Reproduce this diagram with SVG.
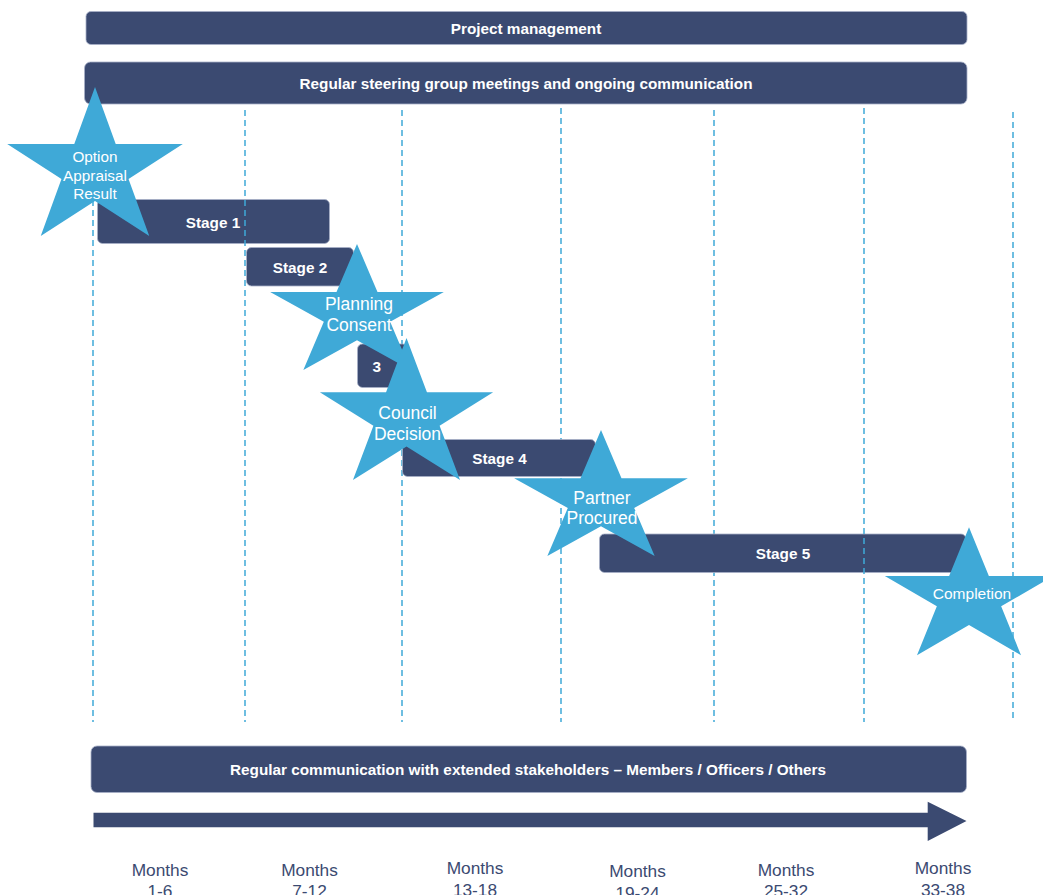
<svg xmlns="http://www.w3.org/2000/svg" width="1043" height="895" viewBox="0 0 1043 895">
<style>
.bar{fill:#3b4a71;stroke:#a7b0c8;stroke-width:0.8}
.star{fill:#3fa9d7}
.grid{stroke:#3fa9d7;stroke-width:1.5;stroke-dasharray:6 4;fill:none}
.bt{font-family:"Liberation Sans",Arial,sans-serif;font-weight:bold;font-size:15.3px;fill:#ffffff;text-anchor:middle}
.st{font-family:"Liberation Sans",Arial,sans-serif;font-size:17.5px;fill:#ffffff;text-anchor:middle}
.mt{font-family:"Liberation Sans",Arial,sans-serif;font-size:17.3px;fill:#3b4a71;text-anchor:middle}
</style>
<defs>
<path id="starShape" d="M0,-100 L22.45,-30.9 L95.11,-30.9 L36.33,11.8 L58.78,80.9 L0,38.2 L-58.78,80.9 L-36.33,11.8 L-95.11,-30.9 L-22.45,-30.9 Z"/>
</defs>
<rect width="1043" height="895" fill="#ffffff"/>

<g id="gridlines-under">
<line class="grid" x1="93" y1="110" x2="93" y2="722"/>
<line class="grid" x1="402" y1="110" x2="402" y2="722"/>
<line class="grid" x1="561" y1="108" x2="561" y2="722"/>
<line class="grid" x1="714" y1="110" x2="714" y2="722"/>
<line class="grid" x1="1013" y1="112" x2="1013" y2="722"/>
</g>

<g id="project-management">
<rect class="bar" x="86" y="11.5" width="881" height="33" rx="5"/>
<text class="bt" x="526" y="34">Project management</text>
</g>
<g id="steering-group">
<rect class="bar" x="84.5" y="62" width="882.5" height="42" rx="6"/>
<text class="bt" x="526" y="89">Regular steering group meetings and ongoing communication</text>
</g>

<g id="stage1"><rect class="bar" x="97.5" y="199.5" width="232" height="44" rx="5"/></g>
<g id="stage2"><rect class="bar" x="246.5" y="247.5" width="107" height="38.5" rx="5"/></g>
<g id="stage3"><rect class="bar" x="357.5" y="344" width="50" height="43.5" rx="5"/></g>
<g id="stage4"><rect class="bar" x="402.5" y="439.5" width="193" height="37" rx="5"/></g>
<g id="stage5"><rect class="bar" x="599.5" y="534" width="366.5" height="38.5" rx="5"/></g>

<g id="gridlines-over">
<line class="grid" x1="245" y1="110" x2="245" y2="722"/>
<line class="grid" x1="864" y1="108" x2="864" y2="722"/>
</g>

<g id="stage-labels">
<text class="bt" x="213" y="228">Stage 1</text>
<text class="bt" x="300" y="273">Stage 2</text>
<text class="bt" x="376.7" y="372">3</text>
<text class="bt" x="499.5" y="464">Stage 4</text>
<text class="bt" x="783" y="559">Stage 5</text>
</g>

<g id="star-option">
<use href="#starShape" class="star" transform="translate(95,169.4) scale(0.923,0.824)"/>
</g>
<g id="star-planning">
<use href="#starShape" class="star" transform="translate(357,313.6) scale(0.913,0.697)"/>
</g>
<g id="star-council">
<use href="#starShape" class="star" transform="translate(406.5,416.5) scale(0.911,0.785)"/>
</g>
<g id="star-partner">
<use href="#starShape" class="star" transform="translate(601,499.7) scale(0.913,0.697)"/>
</g>
<g id="star-completion">
<use href="#starShape" class="star" transform="translate(969,598) scale(0.885,0.708)"/>
</g>

<g id="star-labels">
<text class="st" style="font-size:15.3px" x="95" y="162">Option</text>
<text class="st" style="font-size:15.3px" x="95" y="181">Appraisal</text>
<text class="st" style="font-size:15.3px" x="95" y="199">Result</text>
<text class="st" x="359" y="310">Planning</text>
<text class="st" x="359" y="331">Consent</text>
<text class="st" x="407.5" y="419">Council</text>
<text class="st" x="407.5" y="440">Decision</text>
<text class="st" x="602" y="504">Partner</text>
<text class="st" x="602" y="524">Procured</text>
<text class="st" style="font-size:15.5px" x="972" y="599">Completion</text>
</g>

<g id="stakeholders">
<rect class="bar" x="91" y="746" width="875.5" height="46.5" rx="6"/>
<text class="bt" x="528" y="775">Regular communication with extended stakeholders – Members / Officers / Others</text>
</g>

<g id="connectors">
<path id="timeline-arrow" d="M93.5,812.7 L927.7,812.7 L927.7,801.7 L966.5,821 L927.7,841 L927.7,827.3 L93.5,827.3 Z" fill="#3b4a71"/>
</g>

<g id="month-labels">
<text class="mt" x="160" y="875.5">Months</text>
<text class="mt" x="160" y="897">1-6</text>
<text class="mt" x="309.5" y="875.5">Months</text>
<text class="mt" x="309.5" y="897">7-12</text>
<text class="mt" x="475" y="874">Months</text>
<text class="mt" x="475" y="895.5">13-18</text>
<text class="mt" x="637.5" y="877">Months</text>
<text class="mt" x="637.5" y="898.5">19-24</text>
<text class="mt" x="786" y="875.5">Months</text>
<text class="mt" x="786" y="897">25-32</text>
<text class="mt" x="943" y="874">Months</text>
<text class="mt" x="943" y="895.5">33-38</text>
</g>
</svg>
